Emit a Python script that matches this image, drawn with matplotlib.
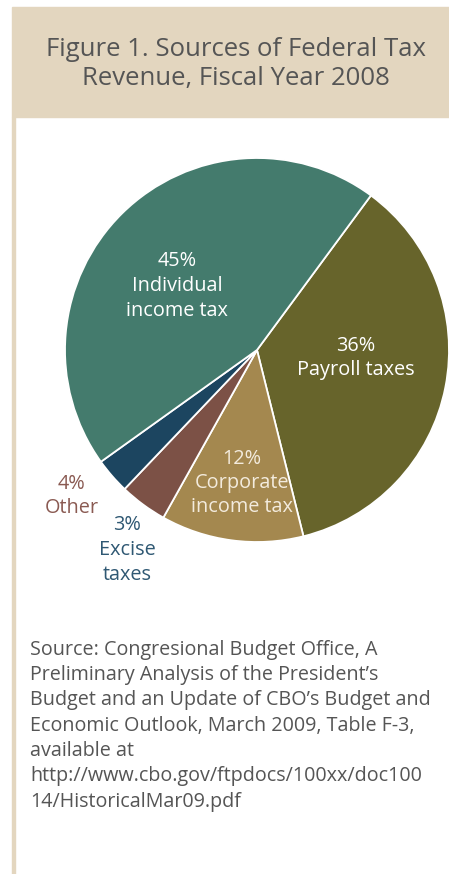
import matplotlib
matplotlib.use("Agg")
import matplotlib.pyplot as plt
from matplotlib.patches import Rectangle

plt.rcParams['font.family'] = ['Open Sans', 'DejaVu Sans']

# Shares of federal tax revenue, FY2008 (percent), clockwise from upper right
categories = ["Payroll taxes", "Corporate income tax", "Other", "Excise taxes", "Individual income tax"]
shares = [36, 12, 4, 3, 45]
colors = ["#67642B", "#A4884F", "#7C5146", "#1C4560", "#447B6D"]

title = "Figure 1. Sources of Federal Tax\nRevenue, Fiscal Year 2008"
source = ("Source: Congresional Budget Office, A\n"
          "Preliminary Analysis of the President\u2019s\n"
          "Budget and an Update of CBO\u2019s Budget and\n"
          "Economic Outlook, March 2009, Table F-3,\n"
          "available at\n"
          "http://www.cbo.gov/ftpdocs/100xx/doc100\n"
          "14/HistoricalMar09.pdf")

W, H = 449, 874
fig = plt.figure(figsize=(W / 100, H / 100), dpi=100)
fig.patch.set_facecolor("white")


def fx(px):
    return px / W


def fy(py):
    return 1 - py / H


beige = "#E3D6BF"
# title band and left rule
fig.patches.append(Rectangle((fx(12), fy(117)), fx(W - 12), (110) / H,
                             transform=fig.transFigure, color=beige, zorder=0))
fig.patches.append(Rectangle((fx(12), 0), fx(2.5), fy(117),
                             transform=fig.transFigure, color=beige, zorder=0))

fig.text(fx(236), fy(64), title, ha="center", va="center", fontsize=18.5,
         color="#555555", linespacing=1.2)

# pie
cx, cy, r = 257, 350, 192
ax = fig.add_axes([fx(cx - r), fy(cy + r), 2 * r / W, 2 * r / H])
ax.pie(shares, colors=colors, startangle=53.6, counterclock=False,
       wedgeprops=dict(edgecolor="white", linewidth=1.3))
ax.set_xlim(-1, 1)
ax.set_ylim(-1, 1)
ax.set_aspect("auto")
ax.axis("off")

lab = dict(ha="center", va="center", fontsize=14.3, linespacing=1.3)
fig.text(fx(177), fy(286), f"{shares[4]}%\nIndividual\nincome tax", color="white", **lab)
fig.text(fx(356), fy(358), f"{shares[0]}%\nPayroll taxes", color="white", **lab)
fig.text(fx(242), fy(483), f"{shares[1]}%\nCorporate\nincome tax", color="#F3EBDD", **lab)
fig.text(fx(72), fy(496), f"{shares[2]}%\nOther", color="#8A5A52", **lab)
fig.text(fx(127), fy(550), f"{shares[3]}%\nExcise\ntaxes", color="#2F5873", **lab)

fig.text(fx(30), fy(640), source, ha="left", va="top", fontsize=14.2,
         color="#555555", linespacing=1.35)

fig.savefig("out.png", dpi=100, facecolor="white")
